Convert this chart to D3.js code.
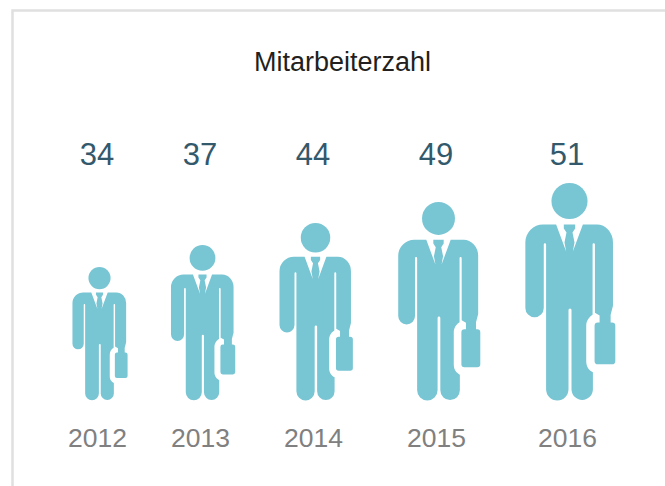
<!DOCTYPE html>
<html>
<head>
<meta charset="utf-8">
<script src="https://cdn.jsdelivr.net/npm/d3@7"></script>
<style>
html, body { margin: 0; padding: 0; background: #fff; }
svg { display: block; }
text { font-family: "Liberation Sans", Arial, sans-serif; }
.tick text { font-family: "Liberation Sans", Arial, sans-serif; }
</style>
</head>
<body>
<div id="chart"></div>
<script>
var title = "Mitarbeiterzahl";
var years = ["2012", "2013", "2014", "2015", "2016"];
var employees = [34, 37, 44, 49, 51];

var width = 665,
	height = 486,
	baseline = 400,
	iconHeight = 649; // height of the drawn figure in path units

// the figures are a pictogram and not strictly to scale, so both scales go point by point
var x = d3.scaleOrdinal()
	.domain(years)
	.range([97, 200, 313, 436, 567]);

var figureHeight = d3.scaleLinear()
	.domain(employees)
	.range([133, 155, 177, 198, 217]);

var svg = d3.select("#chart")
	.append("svg")
	.attr("width", width)
	.attr("height", height);

// card border, only the top and left edges are in frame
svg.append("path")
	.attr("d", "M12.5 486V10.5H665")
	.attr("fill", "none")
	.attr("stroke", "#e0e0e0")
	.attr("stroke-width", 2.5);

svg.append("text")
	.attr("x", 342.5)
	.attr("y", 71)
	.attr("text-anchor", "middle")
	.attr("font-size", 27)
	.attr("textLength", 177)
	.attr("fill", "#231f20")
	.text(title);

// body with the collar cut out, then the case
var man = "M140 162L170 243L165 216L171 186L163 174V162H197V174L189 186L195 216L190 243L220 162H262A48 53 0 0 1 310 215V405L303 432V458H270V434L256 426V222A3.5 3.5 0 0 0 249 222V432C240 438 230 448 230 466V570C230 590 240 598 250 604V655A32 32 0 0 1 186 655V418A4.5 4.5 0 0 0 177 418V655A33.5 33.5 0 0 1 110 655V222A3.5 3.5 0 0 0 103 222V412A27.5 27.5 0 0 1 48 412V215A53 53 0 0 1 101 162Z" +
	"M265 455H307A10 10 0 0 1 317 465V570A10 10 0 0 1 307 580H265A10 10 0 0 1 255 570V465A10 10 0 0 1 265 455Z";

var figures = svg.selectAll(".figure")
	.data(years)
	.enter()
	.append("g")
	.attr("class", "figure")
	.attr("transform", function(d, i) {
		var s = figureHeight(employees[i]) / iconHeight;
		return "translate(" + (x(d) + 2.5) + "," + baseline + ") scale(" + s + ") translate(-180,-687)";
	})
	.attr("fill", "#78c5d3");

figures.append("circle")
	.attr("cx", 180)
	.attr("cy", 92)
	.attr("r", 54);

figures.append("path")
	.attr("d", man);

svg.selectAll(".value")
	.data(employees)
	.enter()
	.append("text")
	.attr("class", "value")
	.attr("x", function(d, i) { return x(years[i]); })
	.attr("y", 165)
	.attr("text-anchor", "middle")
	.attr("font-size", 31)
	.attr("fill", "#33596c")
	.text(function(d) { return d; });

var axis = svg.append("g")
	.attr("transform", "translate(0,447)")
	.call(d3.axisBottom(x).tickSize(0).tickPadding(0));

axis.select(".domain").remove();
axis.selectAll("text")
	.attr("dy", 0)
	.attr("y", 0)
	.attr("font-size", 26.5)
	.attr("fill", "#808080");
</script>
</body>
</html>
